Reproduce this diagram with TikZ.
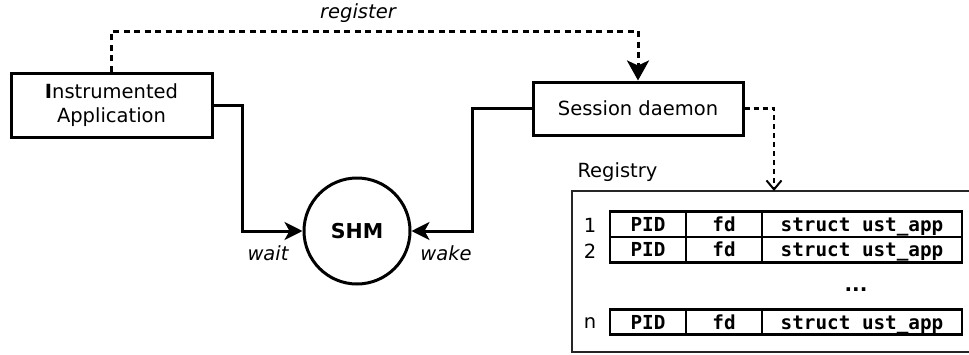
\documentclass[tikz,border=0pt]{standalone}
\usepackage{fontspec}
\setmainfont{DejaVu Sans}
\setmonofont{DejaVu Sans Mono}
\usetikzlibrary{arrows.meta}
\begin{document}
\begin{tikzpicture}[x=1pt,y=-1pt,
  box/.style={draw,line width=3pt,inner sep=0pt,align=center,
    font=\fontsize{19.5}{24}\selectfont},
  cell/.style={draw,line width=2.6pt,minimum height=25.5pt,inner sep=0pt,
    text height=14pt,text depth=0pt,
    font=\fontsize{19.3}{20}\selectfont\ttfamily\bfseries},
  flow/.style={line width=3pt,-{Stealth[length=18pt,width=18pt,inset=5pt]}},
  dashline/.style={line width=3pt,dash pattern=on 6pt off 4.5pt},
  lbl/.style={font=\fontsize{19.5}{22}\selectfont\itshape},
  plain/.style={font=\fontsize{19.5}{22}\selectfont}
]
\useasboundingbox (0,0) rectangle (969,354);

% processes and shared memory
\node[box,minimum width=201pt,minimum height=64pt] (app) at (111.5,105)
  {\textbf{I}nstrumented\\Application};
\node[box,minimum width=210pt,minimum height=53pt] (sd) at (638,108.5)
  {Session daemon};
\node[circle,draw,line width=3pt,minimum size=106pt,inner sep=0pt,
  font=\fontsize{20.5}{24}\selectfont\bfseries] (shm) at (357,231) {SHM};

% bend points of the connectors
\coordinate (regrow) at (0,31);
\coordinate (waitx) at (242,0);
\coordinate (wakex) at (472,0);
\coordinate (regtop) at (774,191);

% registration of the application with the session daemon
\draw[dashline,-{Stealth[length=20pt,width=22pt,inset=5pt]}]
  (app.north) |- (regrow -| sd.north) -- (sd.north);
\node[lbl] (reglbl) at (358,13) {register};

% wait / wake on the shared memory
\draw[flow] (app.east) -| (waitx |- shm.west) -- (shm.west);
\draw[flow] (sd.west) -| (wakex |- shm.east) -- (shm.east);
\node[lbl] (waitlbl) at (268,253) {wait};
\node[lbl] (wakelbl) at (446,253) {wake};

% registry of applications
\node[plain,anchor=west] (reglabel) at (574,172) {Registry};
\draw[line width=1.2pt,black!85] (975,191) -- (572,191) -- (572,352) -- (975,352);
\draw[line width=2.2pt,dash pattern=on 5pt off 4pt,
  -{Straight Barb[length=9pt,width=15pt,line width=2pt]}]
  (sd.east) -| (regtop);

\foreach \r/\y in {1/224.25,2/249.75,n/322}{
  \node[cell,minimum width=76pt] (pid\r) at (648,\y) {PID\hspace{8pt}};
  \node[cell,minimum width=76pt] (fd\r) at (724,\y) {fd};
  \node[cell,minimum width=200pt] (ust\r) at (862,\y) {struct ust\_app\hspace{8pt}};
  \node[plain] (idx\r) at (590,\y+1.5) {\r};
}
\node[font=\fontsize{20}{20}\selectfont\bfseries] (dots) at (856,290) {...};
\end{tikzpicture}
\end{document}
